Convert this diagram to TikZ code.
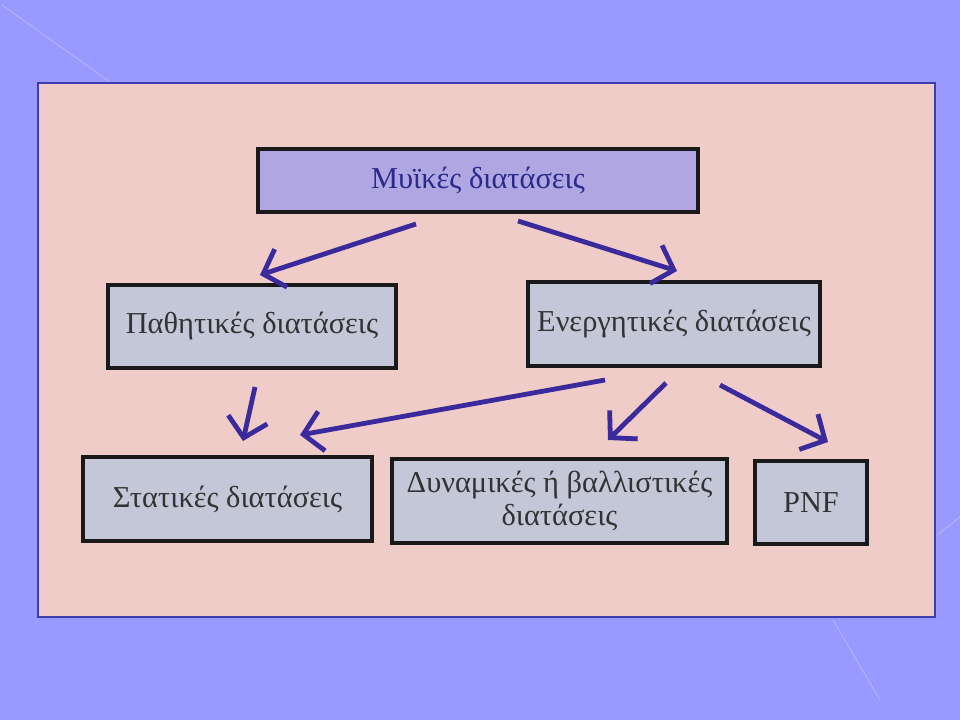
\documentclass[tikz,border=0pt]{standalone}
\usepackage{fontspec}
\setmainfont{Liberation Serif}
\usetikzlibrary{arrows.meta}
\definecolor{bgblue}{HTML}{9999FF}
\definecolor{pinkbg}{HTML}{F0CCC8}
\definecolor{topfill}{HTML}{B0A6E2}
\definecolor{boxfill}{HTML}{C4C7D8}
\definecolor{arrowcol}{HTML}{3A2A9C}
\definecolor{toptext}{HTML}{2A2A8C}
\definecolor{boxtext}{HTML}{333333}
\tikzset{
  px/.style={x=0.75pt,y=-0.75pt},
  box/.style={draw=black!90,line width=2.9pt,fill=boxfill,inner sep=0pt,text=boxtext,
    font=\fontsize{22.8pt}{24pt}\selectfont},
  topbox/.style={box,fill=topfill,text=toptext},
  arr/.style={draw=arrowcol,line width=3.6pt,-{Straight Barb[length=14pt,width=30pt,line width=3.6pt]}},
  faint/.style={draw=white!25!bgblue,line width=0.8pt}
}
\begin{document}
\begin{tikzpicture}[px]
\fill[bgblue] (0,0) rectangle (960,720);
\useasboundingbox (0,0) rectangle (960,720);
\draw[faint] (2,5) -- (110,82);
\draw[faint] (937,535) -- (960,517);
\draw[faint] (833,620) -- (880,700);
\draw[draw=black!50!blue!60!bgblue,line width=0.8pt,fill=pinkbg] (38,83) rectangle (935,617);
\node[topbox,minimum width=440*0.75pt,minimum height=63*0.75pt] (top) at (478,180.5) {Μυϊκές διατάσεις};
\node[box,minimum width=288*0.75pt,minimum height=83*0.75pt] (pas) at (252,326.5) {Παθητικές διατάσεις};
\node[box,minimum width=292*0.75pt,minimum height=84*0.75pt] (ene) at (674,324) {Ενεργητικές διατάσεις};
\node[box,minimum width=289*0.75pt,minimum height=84*0.75pt] (sta) at (227.5,499) {Στατικές διατάσεις};
\node[box,minimum width=335*0.75pt,minimum height=84*0.75pt,align=center,font=\fontsize{22.8pt}{24.5pt}\selectfont] (dyn) at (559.5,501) {Δυναμικές ή βαλλιστικές\\διατάσεις};
\node[box,minimum width=112*0.75pt,minimum height=83*0.75pt] (pnf) at (811,502.5) {PNF};
\coordinate (a1s) at (416,224); \coordinate (a1e) at (260,275);
\coordinate (a2s) at (518,221); \coordinate (a2e) at (677,271);
\coordinate (a3s) at (255,387); \coordinate (a3e) at (243,441);
\coordinate (a4s) at (605,380); \coordinate (a4e) at (300,435);
\coordinate (a5s) at (666,383); \coordinate (a5e) at (608,440);
\coordinate (a6s) at (720,385); \coordinate (a6e) at (828,442);
\draw[arr] (a1s) -- (a1e);
\draw[arr] (a2s) -- (a2e);
\draw[arr] (a3s) -- (a3e);
\draw[arr] (a4s) -- (a4e);
\draw[arr] (a5s) -- (a5e);
\draw[arr] (a6s) -- (a6e);
\end{tikzpicture}
\end{document}
